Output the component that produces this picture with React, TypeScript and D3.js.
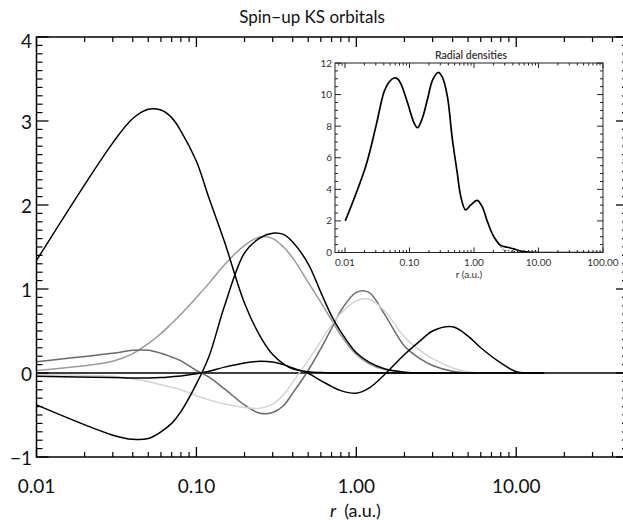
import React from "react";
import * as d3 from "d3";

// ---------- main plot data (Spin-up KS orbitals, r*R(r)) ----------
const rGrid = [0.01, 0.03, 0.04, 0.05, 0.06, 0.07, 0.08, 0.1, 0.12, 0.15, 0.2, 0.25, 0.3, 0.35, 0.4, 0.5, 0.6, 0.7, 0.8, 1.0, 1.2, 1.5, 2.0, 2.5, 3.0, 4.0, 5.0, 6.0, 8.0, 10, 12, 15];
const orb1s = [1.34, 2.74, 3.03, 3.14, 3.13, 3.04, 2.88, 2.52, 2.08, 1.56, 0.83, 0.44, 0.22, 0.11, 0.05, 0.015, 0.005, 0, 0, 0, 0, 0, 0, 0, 0, 0, 0, 0, 0, 0, 0, 0];
const orb2s = [-0.38, -0.74, -0.79, -0.78, -0.70, -0.60, -0.46, -0.13, 0.2, 0.8, 1.43, 1.61, 1.665, 1.65, 1.56, 1.3, 0.96, 0.68, 0.49, 0.24, 0.13, 0.05, 0.01, 0, 0, 0, 0, 0, 0, 0, 0, 0];
const orb2p = [0.03, 0.14, 0.23, 0.35, 0.47, 0.59, 0.7, 0.9, 1.07, 1.29, 1.52, 1.62, 1.6, 1.5, 1.37, 1.08, 0.84, 0.63, 0.45, 0.22, 0.11, 0.04, 0.01, 0, 0, 0, 0, 0, 0, 0, 0, 0];
const orb3s = [0.135, 0.235, 0.27, 0.27, 0.235, 0.19, 0.145, 0.03, -0.05, -0.19, -0.38, -0.48, -0.47, -0.39, -0.24, 0.03, 0.29, 0.53, 0.74, 0.96, 0.96, 0.7, 0.32, 0.17, 0.09, 0.02, 0, 0, 0, 0, 0, 0];
const orb3p = [-0.02, -0.04, -0.07, -0.1, -0.14, -0.17, -0.2, -0.27, -0.32, -0.37, -0.41, -0.42, -0.37, -0.26, -0.11, 0.15, 0.38, 0.57, 0.71, 0.86, 0.88, 0.74, 0.43, 0.27, 0.17, 0.06, 0.015, 0, 0, 0, 0, 0];
const orb4s = [-0.04, -0.055, -0.06, -0.06, -0.055, -0.045, -0.035, -0.01, 0.02, 0.07, 0.12, 0.14, 0.13, 0.1, 0.06, -0.005, -0.09, -0.16, -0.21, -0.24, -0.18, -0.02, 0.22, 0.38, 0.5, 0.55, 0.44, 0.3, 0.12, 0.015, 0, 0];

const seriesNames = ["2p", "3s", "3p", "1s", "2s", "4s"];
const seriesColors = ["#9a9a9a", "#6a6a6a", "#d4d4d4", "#000000", "#000000", "#000000"];
const seriesValues = [orb2p, orb3s, orb3p, orb1s, orb2s, orb4s];

const xMajorTicks = [0.01, 0.1, 1, 10];
const xTickLabels = ["0.01", "0.10", "1.00", "10.00"];
const yMajorTicks = [-1, 0, 1, 2, 3, 4];
const yTickLabels = ["\u22121", "0", "1", "2", "3", "4"];

// ---------- inset data (radial densities) ----------
const densR = [0.0101, 0.0211, 0.0302, 0.0405, 0.0483, 0.058, 0.065, 0.0733, 0.093, 0.118, 0.133, 0.158, 0.19, 0.227, 0.277, 0.323, 0.386, 0.461, 0.552, 0.62, 0.74, 0.885, 1.12, 1.34, 1.6, 2.03, 2.6, 3.3, 4.1, 5.9, 10.7, 100];
const densTotal = [2.0, 5.5, 8.0, 10.2, 10.8, 11.05, 11.0, 10.7, 9.5, 8.2, 7.9, 8.5, 9.7, 10.9, 11.4, 11.1, 9.9, 7.2, 5.0, 3.6, 2.7, 3.0, 3.3, 2.9, 2.0, 1.0, 0.45, 0.33, 0.23, 0.06, 0, 0];
const densDotR = [2.03, 2.4, 2.8, 3.5, 5.0, 8.0];
const densDot = [1.0, 0.55, 0.2, 0.1, 0.04, 0];
const insetXMajor = [0.01, 0.1, 1, 10, 100];
const insetXLabels = ["0.01", "0.10", "1.00", "10.00", "100.00"];
const insetYMajor = [0, 2, 4, 6, 8, 10, 12];

const FONT = "Lato, 'Open Sans', sans-serif";

function logMinors(lo: number, hi: number): number[] {
  const out: number[] = [];
  for (let e = -3; e <= 2; e++) {
    const d = Math.pow(10, e);
    for (let k = 2; k <= 9; k++) {
      const v = d * k;
      if (v > lo * 1.0001 && v < hi * 0.9999) out.push(v);
    }
  }
  return out;
}

export default function App() {
  const W = 623, H = 520;
  const L = 36.5, R = 628, T = 37, B = 457;
  const x = d3.scaleLog().domain([0.01, 50]).range([L, R]);
  const y = d3.scaleLinear().domain([-1, 4]).range([B, T]);

  const line = d3
    .line<[number, number]>()
    .x((d) => x(d[0]))
    .y((d) => y(d[1]))
    .curve(d3.curveCatmullRom.alpha(0.5));

  const xMinor = logMinors(0.01, 50);
  const yMinor = d3.range(-10, 41).map((i) => i / 10).filter((v) => Math.abs(v - Math.round(v)) > 1e-6);

  // inset
  const iL = 335, iR = 603, iT = 63, iB = 252.5;
  const ix = d3.scaleLog().domain([0.007, 100]).range([iL, iR]);
  const iy = d3.scaleLinear().domain([0, 12]).range([iB, iT]);
  const iline = d3
    .line<[number, number]>()
    .x((d) => ix(d[0]))
    .y((d) => iy(d[1]))
    .curve(d3.curveCatmullRom.alpha(0.5));
  const ixMinor = logMinors(0.007, 100);
  const iyMinor = d3.range(0, 25).map((i) => i / 2).filter((v) => v % 2 !== 0);

  return (
    <svg width={W} height={H} style={{ position: "fixed", left: 0, top: 0, background: "#fff" }} fontFamily={FONT}>
      <defs>
        <clipPath id="plotClip">
          <rect x={L} y={T} width={R - L} height={B - T} />
        </clipPath>
        <clipPath id="insetClip">
          <rect x={iL} y={iT} width={iR - iL} height={iB - iT} />
        </clipPath>
      </defs>
      <rect x={0} y={0} width={W} height={H} fill="#fff" />

      {/* title */}
      <text x={312} y={23} textAnchor="middle" fontSize={17} fill="#111">Spin{"\u2212"}up KS orbitals</text>

      {/* curves */}
      <g clipPath="url(#plotClip)">
        <line x1={L} x2={R} y1={y(0)} y2={y(0)} stroke="#000" strokeWidth={1.4} />
        {seriesValues.map((vals, si) => (
          <path
            key={seriesNames[si]}
            d={line(rGrid.map((r, i) => [r, vals[i]] as [number, number])) || ""}
            fill="none"
            stroke={seriesColors[si]}
            strokeWidth={1.5}
          />
        ))}
      </g>

      {/* frame */}
      <rect x={L} y={T} width={R - L} height={B - T} fill="none" stroke="#000" strokeWidth={1.5} />

      {/* x ticks */}
      {xMajorTicks.map((v) => (
        <g key={"xm" + v}>
          <line x1={x(v)} x2={x(v)} y1={B} y2={B - 10} stroke="#000" strokeWidth={1.3} />
          <line x1={x(v)} x2={x(v)} y1={T} y2={T + 10} stroke="#000" strokeWidth={1.3} />
        </g>
      ))}
      {xMinor.map((v) => (
        <g key={"xn" + v}>
          <line x1={x(v)} x2={x(v)} y1={B} y2={B - 5} stroke="#000" strokeWidth={1.2} />
          <line x1={x(v)} x2={x(v)} y1={T} y2={T + 5} stroke="#000" strokeWidth={1.2} />
        </g>
      ))}
      {xMajorTicks.map((v, i) => (
        <text key={"xl" + v} x={x(v)} y={493} textAnchor="middle" fontSize={19} fill="#111">{xTickLabels[i]}</text>
      ))}

      {/* y ticks */}
      {yMajorTicks.map((v) => (
        <g key={"ym" + v}>
          <line x1={L} x2={L + 12} y1={y(v)} y2={y(v)} stroke="#000" strokeWidth={1.3} />
          <line x1={R} x2={R - 12} y1={y(v)} y2={y(v)} stroke="#000" strokeWidth={1.3} />
        </g>
      ))}
      {yMinor.map((v) => (
        <g key={"yn" + v}>
          <line x1={L} x2={L + 6} y1={y(v)} y2={y(v)} stroke="#000" strokeWidth={1.2} />
          <line x1={R} x2={R - 6} y1={y(v)} y2={y(v)} stroke="#000" strokeWidth={1.2} />
        </g>
      ))}
      {yMajorTicks.map((v, i) => (
        <text key={"yl" + v} x={32} y={y(v) + (v === 4 ? 11 : 8)} textAnchor="end" fontSize={19} fill="#111">{yTickLabels[i]}</text>
      ))}

      {/* x title */}
      <text x={330} y={517} textAnchor="start" fontSize={18} fill="#111">
        <tspan fontStyle="italic">r</tspan>
        <tspan dx={8}>(a.u.)</tspan>
      </text>

      {/* inset */}
      <rect x={iL} y={iT} width={iR - iL} height={iB - iT} fill="#fff" />
      <g clipPath="url(#insetClip)">
        <path d={iline(densDotR.map((r, i) => [r, densDot[i]] as [number, number])) || ""} fill="none" stroke="#000" strokeWidth={1} strokeDasharray="1.2,1.8" />
        <path d={iline(densR.map((r, i) => [r, densTotal[i]] as [number, number])) || ""} fill="none" stroke="#000" strokeWidth={1.7} />
      </g>
      <rect x={iL} y={iT} width={iR - iL} height={iB - iT} fill="none" stroke="#222" strokeWidth={1} />
      {insetXMajor.map((v) => (
        <g key={"ixm" + v}>
          <line x1={ix(v)} x2={ix(v)} y1={iB} y2={iB - 5} stroke="#222" strokeWidth={1} />
          <line x1={ix(v)} x2={ix(v)} y1={iT} y2={iT + 5} stroke="#222" strokeWidth={1} />
        </g>
      ))}
      {ixMinor.map((v) => (
        <g key={"ixn" + v}>
          <line x1={ix(v)} x2={ix(v)} y1={iB} y2={iB - 2.5} stroke="#222" strokeWidth={1} />
          <line x1={ix(v)} x2={ix(v)} y1={iT} y2={iT + 2.5} stroke="#222" strokeWidth={1} />
        </g>
      ))}
      {insetYMajor.map((v) => (
        <g key={"iym" + v}>
          <line x1={iL} x2={iL + 6} y1={iy(v)} y2={iy(v)} stroke="#222" strokeWidth={1} />
          <line x1={iR} x2={iR - 6} y1={iy(v)} y2={iy(v)} stroke="#222" strokeWidth={1} />
        </g>
      ))}
      {iyMinor.map((v) => (
        <g key={"iyn" + v}>
          <line x1={iL} x2={iL + 3} y1={iy(v)} y2={iy(v)} stroke="#222" strokeWidth={1} />
          <line x1={iR} x2={iR - 3} y1={iy(v)} y2={iy(v)} stroke="#222" strokeWidth={1} />
        </g>
      ))}
      {insetYMajor.map((v) => (
        <text key={"iyl" + v} x={iL - 3} y={iy(v) + 3.5} textAnchor="end" fontSize={10} fill="#333">{v}</text>
      ))}
      {insetXMajor.map((v, i) => (
        <text key={"ixl" + v} x={ix(v)} y={266} textAnchor="middle" fontSize={10} fill="#333">{insetXLabels[i]}</text>
      ))}
      <text x={469} y={278} textAnchor="middle" fontSize={10} fill="#333">r (a.u.)</text>
      <text x={471} y={59} textAnchor="middle" fontSize={10.5} fontWeight={600} fill="#333">Radial densities</text>
    </svg>
  );
}
